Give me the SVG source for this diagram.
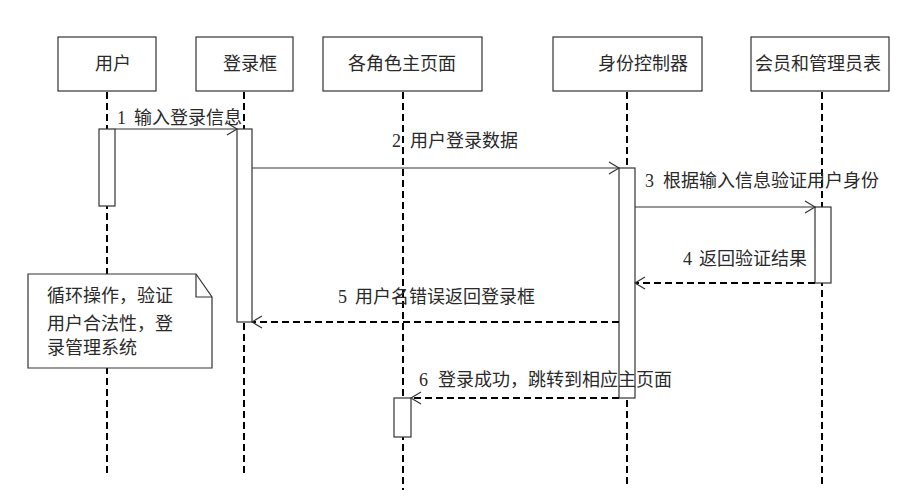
<svg xmlns="http://www.w3.org/2000/svg" width="924" height="500" viewBox="0 0 924 500">
<style>
text{font-family:"Liberation Serif","Noto Sans CJK SC",serif;font-size:18px;fill:#2a2a2a}
.box{fill:#fff;stroke:#333;stroke-width:1.2}
.life{stroke:#000;stroke-width:2;stroke-dasharray:7 4;fill:none}
.act{fill:#fff;stroke:#333;stroke-width:1.2}
.sync{stroke:#333;stroke-width:1.2;fill:none}
.ret{stroke:#000;stroke-width:2;stroke-dasharray:7 4;fill:none}
.ah{stroke:#333;stroke-width:1.2;fill:none}
</style>
<rect width="924" height="500" fill="#fff"/>
<g id="lifelines">
<line class="life" x1="107" y1="92" x2="107" y2="473"/>
<line class="life" x1="244" y1="92" x2="244" y2="473"/>
<line class="life" x1="403" y1="92" x2="403" y2="490"/>
<line class="life" x1="627" y1="92" x2="627" y2="485"/>
<line class="life" x1="822" y1="92" x2="822" y2="485"/>
</g>
<g id="user">
<rect class="box" x="58" y="37" width="98" height="54"/>
<text x="95" y="70">用户</text>
<rect class="act" x="99" y="129" width="16" height="77"/>
</g>
<g id="login">
<rect class="box" x="196" y="37" width="97" height="54"/>
<text x="223" y="70">登录框</text>
<rect class="act" x="237" y="129" width="15" height="193"/>
</g>
<g id="mainpage">
<rect class="box" x="323" y="37" width="159" height="54"/>
<text x="348" y="70">各角色主页面</text>
<rect class="act" x="394" y="398" width="17" height="39"/>
</g>
<g id="controller">
<rect class="box" x="553" y="37" width="149" height="54"/>
<text x="598" y="70">身份控制器</text>
<rect class="act" x="619" y="168" width="16" height="230"/>
</g>
<g id="table">
<rect class="box" x="751" y="37" width="138" height="54"/>
<text x="755" y="70">会员和管理员表</text>
<rect class="act" x="815" y="207" width="16" height="76"/>
</g>
<g id="note">
<path class="box" d="M28,274 H196 L212,297 V368 H28 Z"/>
<path class="ah" d="M196,274 V297 H212"/>
<text x="47" y="302">循环操作，验证</text>
<text x="47" y="330">用户合法性，登</text>
<text x="47" y="354">录管理系统</text>
</g>
<g id="connectors">
<line class="sync" x1="115" y1="129" x2="237" y2="129"/>
<path class="ah" d="M227,123 L237,129 L227,135"/>
<line class="sync" x1="252" y1="168" x2="619" y2="168"/>
<path class="ah" d="M609,162 L619,168 L609,174"/>
<line class="sync" x1="635" y1="207" x2="815" y2="207"/>
<path class="ah" d="M805,201 L815,207 L805,213"/>
<line class="ret" x1="815" y1="283" x2="636" y2="283"/>
<path class="ah" d="M645,277 L635,283 L645,289"/>
<line class="ret" x1="619" y1="322" x2="253" y2="322"/>
<path class="ah" d="M262,316 L252,322 L262,328"/>
<line class="ret" x1="619" y1="398" x2="412" y2="398"/>
<path class="ah" d="M421,392 L411,398 L421,404"/>
<text x="117" y="124">1<tspan x="134">输入登录信息</tspan></text>
<text x="392" y="147">2<tspan x="410">用户登录数据</tspan></text>
<text x="645" y="187">3<tspan x="663">根据输入信息验证用户身份</tspan></text>
<text x="683" y="265">4<tspan x="699">返回验证结果</tspan></text>
<text x="338" y="303">5<tspan x="355">用户名错误返回登录框</tspan></text>
<text x="419" y="386">6<tspan x="438">登录成功，跳转到相应主页面</tspan></text>
</g>
</svg>
